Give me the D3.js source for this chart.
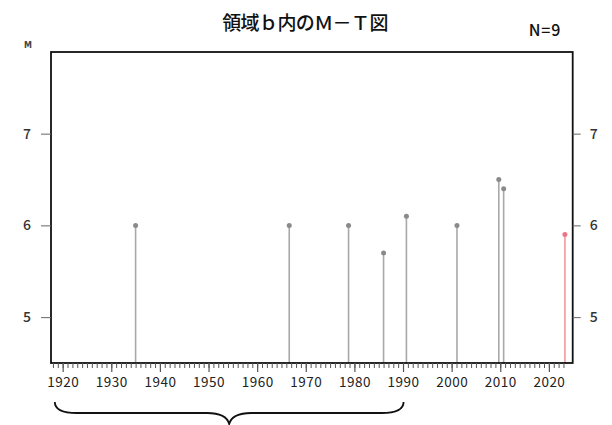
<!DOCTYPE html>
<html><head><meta charset="utf-8">
<script src="https://cdn.jsdelivr.net/npm/d3@7"></script>
<style>body{margin:0;background:#fff}svg{display:block}</style>
</head><body>
<script>
const title = "領域ｂ内のＭ－Ｔ図";
const countLabel = "N=9";
const years = [1935.0, 1966.6, 1978.8, 1986.0, 1990.7, 2001.1, 2009.7, 2010.7, 2023.3];
const mags  = [6.0, 6.0, 6.0, 5.7, 6.1, 6.0, 6.5, 6.4, 5.9];
const highlightIndex = [8];
const xTicks = [1920,1930,1940,1950,1960,1970,1980,1990,2000,2010,2020];
const yTicks = [5,6,7];
const minorStart = 1918, minorEnd = 2023;
const braceRange = [1919, 1989.5];

const W = 612, H = 425;
const svg = d3.select("body").append("svg").attr("width", W).attr("height", H);
const font = "'Noto Sans CJK JP','Noto Sans',sans-serif";

const x = d3.scaleLinear().domain([1917.6, 2024.9]).range([51, 572.7]);
const y = d3.scaleLinear().domain([4.5, 7.89]).range([363, 52]);

// stems
const data = years.map((yr,i)=>({yr, m: mags[i], hl: highlightIndex.includes(i)}));
svg.append("g").selectAll("line").data(data).join("line")
  .attr("x1", d=>x(d.yr)).attr("x2", d=>x(d.yr))
  .attr("y1", y(4.5)).attr("y2", d=>y(d.m))
  .attr("stroke", d=>d.hl ? "#f29a9a" : "#a8a8a8").attr("stroke-width", 1.6);
svg.append("g").selectAll("circle").data(data).join("circle")
  .attr("cx", d=>x(d.yr)).attr("cy", d=>y(d.m)).attr("r", 2.5)
  .attr("fill", d=>d.hl ? "#ee7585" : "#8a8a8a");

// frame
svg.append("rect").attr("x", x.range()[0]).attr("y", y.range()[1])
  .attr("width", x.range()[1]-x.range()[0]).attr("height", y.range()[0]-y.range()[1])
  .attr("fill","none").attr("stroke","#111").attr("stroke-width",1.8);

// left axis
const gl = svg.append("g").attr("transform", `translate(${x.range()[0]},0)`)
  .call(d3.axisLeft(y).tickValues(yTicks).tickSize(10).tickPadding(10).tickFormat(d3.format("d")));
// right axis
const gr = svg.append("g").attr("transform", `translate(${x.range()[1]},0)`)
  .call(d3.axisRight(y).tickValues(yTicks).tickSize(8).tickPadding(9).tickFormat(d3.format("d")));
[gl, gr].forEach(g=>{
  g.select(".domain").remove();
  g.selectAll(".tick line").attr("stroke","#666").attr("stroke-width",1);
  g.selectAll(".tick text").attr("font-family",font).attr("font-size",14).attr("font-weight",500).attr("fill","#333");
});

// bottom axis minor ticks
const minor = d3.range(minorStart, minorEnd+1);
const gm = svg.append("g").attr("transform", `translate(0,${y.range()[0]})`)
  .call(d3.axisBottom(x).tickValues(minor).tickSize(5).tickFormat(""));
gm.select(".domain").remove();
gm.selectAll(".tick line").attr("stroke","#555").attr("stroke-width",1);
const gb = svg.append("g").attr("transform", `translate(0,${y.range()[0]})`)
  .call(d3.axisBottom(x).tickValues(xTicks).tickSize(9).tickPadding(5).tickFormat(d3.format("d")));
gb.select(".domain").remove();
gb.selectAll(".tick line").attr("stroke","#555").attr("stroke-width",1.2);
gb.selectAll(".tick text").attr("font-family",font).attr("font-size",13.5).attr("letter-spacing",0.5).attr("fill","#222");

// labels
svg.append("text").attr("x",28).attr("y",48).attr("text-anchor","middle")
  .attr("font-family","'DejaVu Sans',sans-serif").attr("font-size",8).attr("font-weight","bold").attr("fill","#444").text("M");
svg.append("text").attr("x",305).attr("y",30).attr("text-anchor","middle")
  .attr("font-family",font).attr("font-size",19).attr("letter-spacing",-0.6).attr("font-weight",500).attr("fill","#111").text(title);
svg.append("text").attr("x",545).attr("y",36).attr("text-anchor","middle")
  .attr("font-family",font).attr("font-size",16).attr("letter-spacing",0.8).attr("font-weight",500).attr("fill","#111").text(countLabel);

// brace
const bx0 = x(braceRange[0]) - 3, bx1 = x(braceRange[1]) + 3;
const bm = (bx0+bx1)/2, yTop = 402, yMid = 413, yTip = 424;
const p = d3.path();
p.moveTo(bx0, yTop);
p.quadraticCurveTo(bx0, yMid, bx0+22, yMid);
p.lineTo(bm-22, yMid);
p.quadraticCurveTo(bm-3, yMid, bm, yTip);
p.quadraticCurveTo(bm+3, yMid, bm+22, yMid);
p.lineTo(bx1-22, yMid);
p.quadraticCurveTo(bx1, yMid, bx1, yTop);
svg.append("path").attr("d", p.toString()).attr("fill","none").attr("stroke","#111").attr("stroke-width",1.8);
</script>
</body></html>
